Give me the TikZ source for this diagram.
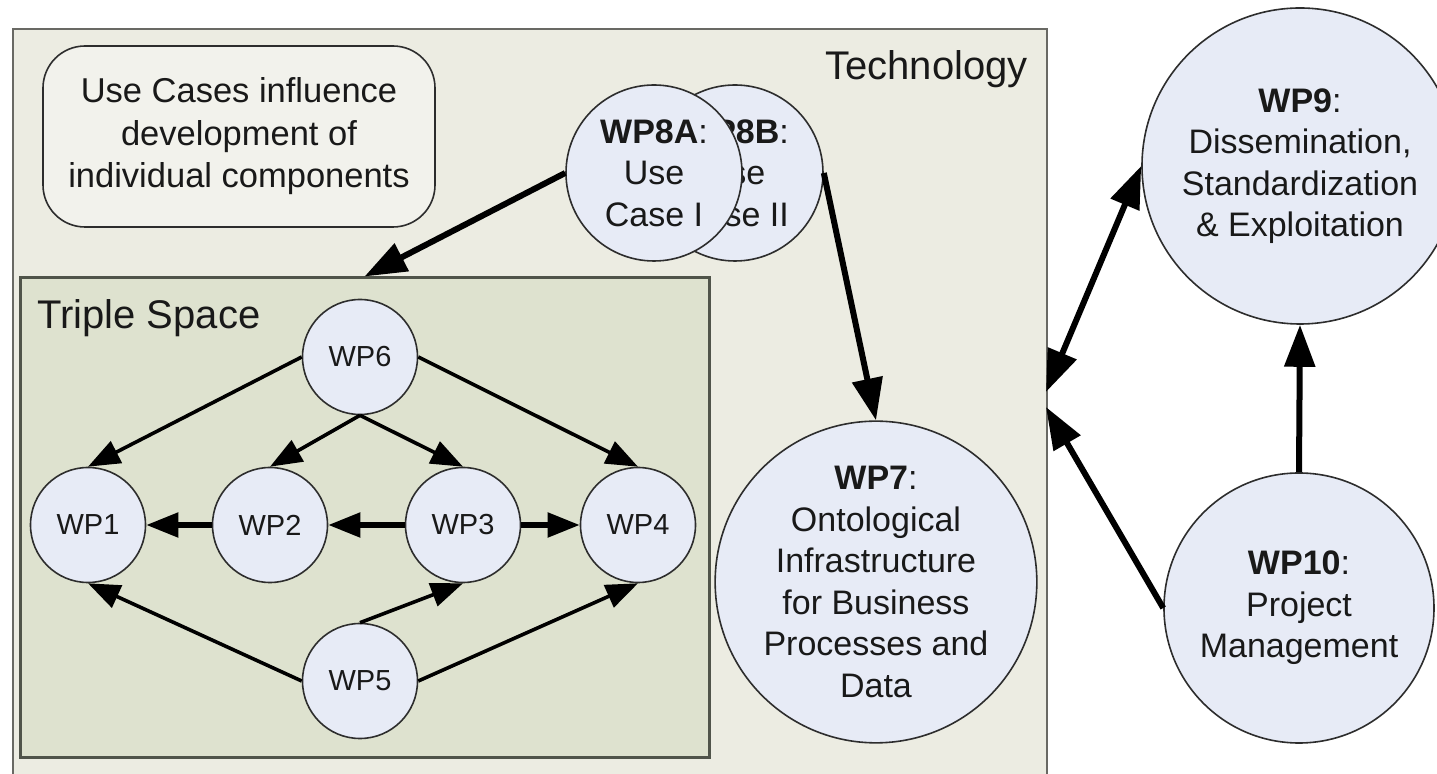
\documentclass[tikz,border=0pt]{standalone}
\usepackage{fontspec}
\setmainfont{Liberation Sans}
\usetikzlibrary{arrows.meta}
\definecolor{techfill}{RGB}{236,236,226}
\definecolor{techline}{RGB}{105,105,100}
\definecolor{tsfill}{RGB}{222,226,207}
\definecolor{tsline}{RGB}{80,84,74}
\definecolor{circfill}{RGB}{231,235,246}
\definecolor{circline}{RGB}{45,45,45}
\definecolor{ucfill}{RGB}{242,242,236}
\definecolor{txt}{RGB}{25,25,25}
\begin{document}
\begin{tikzpicture}[x=0.5pt,y=-0.5pt,
  every node/.style={text=txt},
  techbox/.style={rectangle,draw=techline,line width=1.2pt,fill=techfill,inner sep=0pt},
  tsbox/.style={rectangle,draw=tsline,line width=1.5pt,fill=tsfill,inner sep=0pt},
  ucbox/.style={rectangle,rounded corners=21pt,draw=circline,line width=0.8pt,fill=ucfill,inner sep=0pt,align=center,font=\fontsize{17.25}{21.25}\selectfont},
  wpsmall/.style={circle,draw=circline,line width=0.8pt,fill=circfill,minimum size=57.5pt,inner sep=0pt,font=\fontsize{14.5}{17}\selectfont},
  wpbig/.style={circle,draw=circline,line width=0.8pt,fill=circfill,inner sep=0pt,align=center,font=\fontsize{17}{20.75}\selectfont},
  title/.style={font=\fontsize{20}{24}\selectfont,inner sep=0pt},
  outarrow/.style={line width=3pt,-{Triangle[length=21pt,width=15pt]}},
  outdarrow/.style={line width=3pt,{Triangle[length=21pt,width=15pt]}-{Triangle[length=21pt,width=15pt]}},
  inarrow/.style={line width=1.8pt,-{Triangle[length=16pt,width=12pt]}},
  inharrow/.style={line width=2.6pt,-{Triangle[length=16pt,width=12pt]}},
]
\useasboundingbox (0,0) rectangle (1437,774);
\clip (0,0) rectangle (1437,774);
\fill[white] (0,0) rectangle (1437,774);

% Technology area
\node[techbox,anchor=north west,minimum width=517pt,minimum height=381pt] (tech) at (12,28) {};
\node[title,anchor=base east] (techlabel) at (1028,80) {Technology};

% Use cases note
\node[ucbox,minimum width=196pt,minimum height=90.5pt] (uc) at (239,136.5)
  {Use Cases influence\\development of\\individual components};

% Triple Space area
\node[tsbox,minimum width=344.5pt,minimum height=240pt] (ts) at (364.5,518) {};
\node[title,anchor=base west] (tslabel) at (37,329) {Triple Space};

% Use case circles
\node[wpbig,minimum size=88pt] (wp8b) at (735,173) {\textbf{WP8B}:\\Use\\Case II};
\node[wpbig,minimum size=88pt] (wp8a) at (654,173) {\textbf{WP8A}:\\Use\\Case I};

% Big circles
\node[wpbig,minimum size=149pt] (wp7) at (876,582)
  {\textbf{WP7}:\\Ontological\\Infrastructure\\for Business\\Processes and\\Data};
\node[wpbig,minimum size=158pt] (wp9) at (1300,166)
  {\textbf{WP9}:\\Dissemination,\\Standardization\\\& Exploitation};
\node[wpbig,minimum size=135pt] (wp10) at (1299,608)
  {\textbf{WP10}:\\Project\\Management};

% Triple space circles
\node[wpsmall] (wp6) at (360,357) {WP6};
\node[wpsmall] (wp1) at (88,525) {WP1};
\node[wpsmall] (wp2) at (270,525) {WP2};
\node[wpsmall] (wp3) at (463,525) {WP3};
\node[wpsmall] (wp4) at (638,525) {WP4};
\node[wpsmall] (wp5) at (360,681) {WP5};

% connectors on the Technology border
\coordinate (t1) at (1046,392);
\coordinate (t2) at (1046,407);

% outer arrows
\draw[outarrow] (wp8a.west) -- (ts.north);
\draw[outarrow] (wp8b.east) -- (wp7.north);
\draw[outdarrow] (t1) -- (wp9.west);
\draw[outarrow] (wp10.west) -- (t2);
\draw[outarrow] (wp10.north) -- (wp9.south);

% inner arrows
\draw[inarrow] (wp6.west) -- (wp1.north);
\draw[inarrow] (wp6.east) -- (wp4.north);
\draw[inarrow] (wp6.south) -- (wp2.north);
\draw[inarrow] (wp6.south) -- (wp3.north);
\draw[inharrow] (wp2.west) -- (wp1.east);
\draw[inharrow] (wp3.west) -- (wp2.east);
\draw[inharrow] (wp3.east) -- (wp4.west);
\draw[inarrow] (wp5.west) -- (wp1.south);
\draw[inarrow] (wp5.north) -- (wp3.south);
\draw[inarrow] (wp5.east) -- (wp4.south);
\end{tikzpicture}
\end{document}
